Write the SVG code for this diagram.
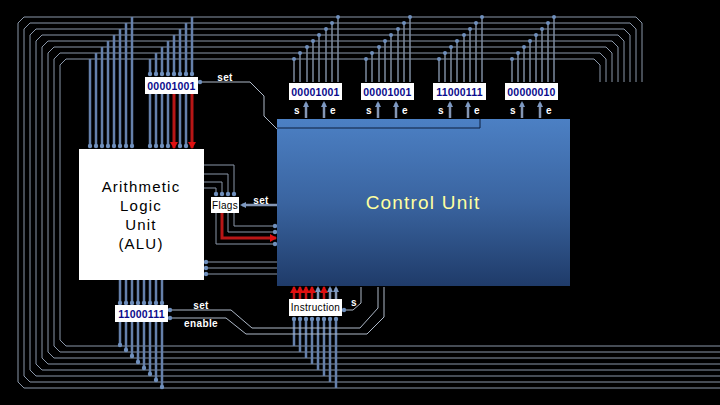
<svg xmlns="http://www.w3.org/2000/svg" width="720" height="405" viewBox="0 0 720 405">
<defs>
<linearGradient id="cu" x1="0" y1="0" x2="0" y2="1"><stop offset="0" stop-color="#4c80c4"/><stop offset="0.5" stop-color="#3a64a0"/><stop offset="1" stop-color="#1f3b69"/></linearGradient>
<marker id="d" markerWidth="6" markerHeight="6" refX="3" refY="3" markerUnits="userSpaceOnUse"><circle cx="3" cy="3" r="2.2" fill="#6f8fbc"/></marker>
<marker id="a" markerWidth="7" markerHeight="7" refX="4" refY="3.500" markerUnits="userSpaceOnUse" orient="auto"><path d="M0 .5L6 3.500L0 6.500z" fill="#7d99c2"/></marker>
<marker id="r" markerWidth="8" markerHeight="8" refX="6" refY="4" markerUnits="userSpaceOnUse" orient="auto"><path d="M0 0L7 4L0 8z" fill="#e01010"/></marker>
</defs>
<style>
.w{fill:none;stroke:#8a97a9;stroke-width:1}
.f{fill:none;stroke:#8a97a9;stroke-width:1;marker-end:url(#d)}
.b{fill:none;stroke:#6580ab;stroke-width:2.500;marker-end:url(#d)}
.v{fill:none;stroke:#7c8a9e;stroke-width:1.500}
.u{fill:none;stroke:#8496b4;stroke-width:2.500;marker-end:url(#a)}
.t{fill:none;stroke:#aeb9c8;stroke-width:1}
.rd{fill:none;stroke:#b81616;stroke-width:3;marker-end:url(#r)}
.ri{fill:none;stroke:#c81414;stroke-width:2.500;marker-end:url(#r)}
.reg{fill:#fff}
.rt{font:bold 10.500px "Liberation Sans",Arial,sans-serif;fill:#0a0a8c;text-anchor:middle;letter-spacing:.2px}
.ft{font:10px "Liberation Sans",Arial,sans-serif;fill:#000;text-anchor:middle;letter-spacing:.3px}
.lb{font:bold 10px "Liberation Sans",Arial,sans-serif;fill:#fff;text-anchor:middle;letter-spacing:.4px}
</style>
<rect width="720" height="405" fill="#000"/>
<g id="connectors">
<g id="buses-ring">
<path class="w" d="M642 82V23L636 17H24L18 23V382L24 388H720"/>
<path class="w" d="M636 82V29L630 23H30L24 29V376L30 382H720"/>
<path class="w" d="M630 82V35L624 29H36L30 35V370L36 376H720"/>
<path class="w" d="M624 82V41L618 35H42L36 41V364L42 370H720"/>
<path class="w" d="M618 82V47L612 41H48L42 47V358L48 364H720"/>
<path class="w" d="M612 82V53L606 47H54L48 53V352L54 358H720"/>
<path class="w" d="M606 82V59L600 53H60L54 59V346L60 352H720"/>
<path class="w" d="M600 82V65L594 59H66L60 65V340L66 346H720"/>
</g>
<g id="alu-in">
<path class="b" d="M90 59V146"/><path class="b" d="M96 53V146"/><path class="b" d="M102 47V146"/><path class="b" d="M108 41V146"/><path class="b" d="M114 35V146"/><path class="b" d="M120 29V146"/><path class="b" d="M126 23V146"/><path class="b" d="M132 17V146"/>
</g>
<g id="reg-a">
<path class="b" d="M150 59V74"/><path class="b" d="M156 53V74"/><path class="b" d="M162 47V74"/><path class="b" d="M168 41V74"/><path class="b" d="M174 35V74"/><path class="b" d="M180 29V74"/><path class="b" d="M186 23V74"/><path class="b" d="M192 17V74"/>
<path class="b" d="M150 94V146"/><path class="b" d="M156 94V146"/><path class="b" d="M162 94V146"/><path class="b" d="M168 94V146"/><path class="b" d="M180 94V146"/><path class="b" d="M186 94V146"/>
<path class="rd" d="M174 94V148"/><path class="rd" d="M192 94V148"/>
</g>
<g id="top-regs">
<path class="v" d="M294 59V82M300 53V82M307 47V82M313 41V82M319 35V82M326 29V82M332 23V82M338 17V82"/>
<path class="v" d="M366 59V82M372 53V82M379 47V82M385 41V82M391 35V82M398 29V82M404 23V82M410 17V82"/>
<path class="v" d="M439 59V82M445 53V82M451 47V82M457 41V82M464 35V82M470 29V82M476 23V82M482 17V82"/>
<path class="v" d="M512 59V82M518 53V82M524 47V82M530 41V82M536 35V82M542 29V82M548 23V82M554 17V82"/>
<g fill="#6f8fbc">
<circle cx="294" cy="59" r="2"/><circle cx="300" cy="53" r="2"/><circle cx="307" cy="47" r="2"/><circle cx="313" cy="41" r="2"/><circle cx="319" cy="35" r="2"/><circle cx="326" cy="29" r="2"/><circle cx="332" cy="23" r="2"/><circle cx="338" cy="17" r="2"/>
<circle cx="366" cy="59" r="2"/><circle cx="372" cy="53" r="2"/><circle cx="379" cy="47" r="2"/><circle cx="385" cy="41" r="2"/><circle cx="391" cy="35" r="2"/><circle cx="398" cy="29" r="2"/><circle cx="404" cy="23" r="2"/><circle cx="410" cy="17" r="2"/>
<circle cx="439" cy="59" r="2"/><circle cx="445" cy="53" r="2"/><circle cx="451" cy="47" r="2"/><circle cx="457" cy="41" r="2"/><circle cx="464" cy="35" r="2"/><circle cx="470" cy="29" r="2"/><circle cx="476" cy="23" r="2"/><circle cx="482" cy="17" r="2"/>
<circle cx="512" cy="59" r="2"/><circle cx="518" cy="53" r="2"/><circle cx="524" cy="47" r="2"/><circle cx="530" cy="41" r="2"/><circle cx="536" cy="35" r="2"/><circle cx="542" cy="29" r="2"/><circle cx="548" cy="23" r="2"/><circle cx="554" cy="17" r="2"/>
</g>
<path class="u" d="M306 118V103"/><path class="u" d="M324 118V103"/>
<path class="u" d="M378 118V103"/><path class="u" d="M396 118V103"/>
<path class="u" d="M450 118V103"/><path class="u" d="M468 118V103"/>
<path class="u" d="M522 118V103"/><path class="u" d="M540 118V103"/>
</g>
<g id="flag-lines">
<path class="f" d="M204 165H234V194"/><path class="f" d="M204 174H228V194"/><path class="f" d="M204 182H222V194"/><path class="f" d="M204 188H216V194"/>
<path class="f" d="M234 213V226H275"/><path class="f" d="M228 213V232H275"/><path class="f" d="M216 213V244H275"/>
<path class="rd" d="M222 213V238H276"/>
<path class="f" d="M277 262H206"/><path class="f" d="M277 268H206"/><path class="f" d="M277 274H206"/>
<path class="u" d="M277 205H242"/>
</g>
<g id="alu-out">
<path class="b" d="M120 280V303"/><path class="b" d="M126 280V303"/><path class="b" d="M132 280V303"/><path class="b" d="M138 280V303"/><path class="b" d="M144 280V303"/><path class="b" d="M150 280V303"/><path class="b" d="M156 280V303"/><path class="b" d="M162 280V303"/>
<path class="b" d="M120 322V345"/><path class="b" d="M126 322V350"/><path class="b" d="M132 322V356"/><path class="b" d="M138 322V362"/><path class="b" d="M144 322V368"/><path class="b" d="M150 322V374"/><path class="b" d="M156 322V380"/><path class="b" d="M162 322V387"/>
</g>
<g id="instr">
<path class="ri" d="M294 299V287"/><path class="ri" d="M300 299V287"/><path class="ri" d="M306 299V287"/><path class="ri" d="M312 299V287"/><path class="u" d="M318 299V288"/><path class="ri" d="M324 299V287"/><path class="u" d="M330 299V288"/><path class="u" d="M336 299V288"/>
<path class="b" d="M294 346V319"/><path class="b" d="M300 352V319"/><path class="b" d="M306 358V319"/><path class="b" d="M312 364V319"/><path class="b" d="M318 370V319"/><path class="b" d="M324 376V319"/><path class="b" d="M330 382V319"/><path class="b" d="M336 388V319"/>
</g>
<g id="ctrl">
<path class="t" d="M250 82H200" marker-end="url(#d)"/><path class="t" d="M250 82L264 96V116L277 129"/>
<path class="t" d="M231 310H170" marker-end="url(#d)"/><path class="t" d="M231 310L252 328H360L378 308V287"/>
<path class="t" d="M226 318H170" marker-end="url(#d)"/><path class="t" d="M226 318L246 334H367L384 317V287"/>
<path class="t" d="M353 310H344" marker-end="url(#d)"/><path class="t" d="M353 310L361 303V287"/>
</g>
</g>
<g id="control-unit">
<rect x="277" y="119" width="293" height="167" fill="url(#cu)"/>
<path d="M277 128H480V119" fill="none" stroke="#0c1e3c" stroke-width="1"/>
<text x="423" y="209" font-family="Liberation Sans" font-size="19" fill="#ffffa0" text-anchor="middle" letter-spacing="1.200">Control Unit</text>
</g>
<g id="alu"><rect x="79" y="149" width="125" height="131" fill="#fff"/>
<g font-family="Liberation Sans" font-size="15" text-anchor="middle" fill="#000" letter-spacing="1.200"><text x="141" y="192">Arithmetic</text><text x="141" y="211">Logic</text><text x="141" y="230">Unit</text><text x="141" y="249">(ALU)</text></g></g>
<g id="flags"><rect class="reg" x="211" y="197" width="28" height="16"/><text class="ft" x="225" y="209">Flags</text></g>
<g id="reg-alu-in"><rect class="reg" x="145" y="77" width="53" height="17"/><text class="rt" x="171.500" y="90">00001001</text></g>
<g id="reg-1"><rect class="reg" x="289" y="83" width="53" height="17"/><text class="rt" x="315.500" y="96">00001001</text></g>
<g id="reg-2"><rect class="reg" x="361" y="83" width="53" height="17"/><text class="rt" x="387.500" y="96">00001001</text></g>
<g id="reg-3"><rect class="reg" x="433" y="83" width="53" height="17"/><text class="rt" x="459.500" y="96">11000111</text></g>
<g id="reg-4"><rect class="reg" x="505" y="83" width="53" height="17"/><text class="rt" x="531.500" y="96">00000010</text></g>
<g id="reg-alu-out"><rect class="reg" x="115" y="305" width="53" height="17"/><text class="rt" x="141.500" y="318">11000111</text></g>
<g id="instruction"><rect class="reg" x="289" y="299" width="53" height="17"/><text class="ft" x="315.500" y="311">Instruction</text></g>
<g id="labels">
<text class="lb" x="225" y="81">set</text><text class="lb" x="261" y="204">set</text><text class="lb" x="201" y="309">set</text><text class="lb" x="201" y="327">enable</text><text class="lb" x="354" y="306">s</text>
<text class="lb" x="297" y="114">s</text><text class="lb" x="333" y="114">e</text><text class="lb" x="369" y="114">s</text><text class="lb" x="405" y="114">e</text><text class="lb" x="441" y="114">s</text><text class="lb" x="477" y="114">e</text><text class="lb" x="513" y="114">s</text><text class="lb" x="549" y="114">e</text>
</g>
</svg>
